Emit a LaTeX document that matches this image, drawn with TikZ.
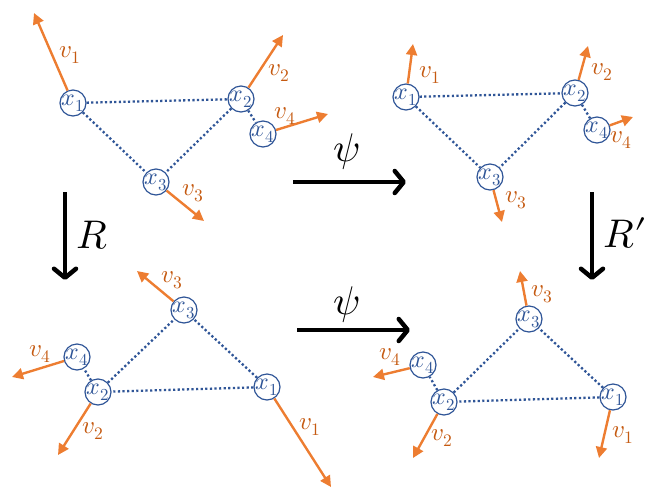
\documentclass[tikz,border=0pt]{standalone}
\usepackage{unicode-math}
\setmathfont{Latin Modern Math}
\usetikzlibrary{arrows.meta}
\definecolor{nodeblue}{HTML}{2F5597}
\definecolor{dotblue}{HTML}{2F5597}
\definecolor{vorange}{HTML}{ED7D31}
\definecolor{vtext}{HTML}{C55A11}
\newcommand{\xl}[1]{\makebox[0pt]{$x_{#1}$}}
\begin{document}
\begin{tikzpicture}[x=1pt,y=-1pt,
 pt/.style={circle,draw=nodeblue,line width=1.2pt,minimum size=26pt,inner sep=0pt,text=nodeblue,font=\fontsize{24}{26}\selectfont},
 link/.style={dotblue,line width=2.3pt,dash pattern=on 2.2pt off 2.4pt},
 vel/.style={vorange,line width=2.4pt,-{Triangle[length=11pt,width=11pt]}},
 vlab/.style={text=vtext,font=\fontsize{25}{27}\selectfont,inner sep=0pt},
 bigarrow/.style={line width=4.5pt,-{Straight Barb[length=9pt,width=22pt,round]}},
 biglab/.style={font=\fontsize{40}{44}\selectfont,inner sep=0pt}]
\useasboundingbox (0,0) rectangle (664,499);

% ---------- top left ----------
\node[pt] (a1) at (73,103) {\xl1};
\node[pt] (a2) at (241,99) {\xl2};
\node[pt] (a3) at (156,182) {\xl3};
\node[pt] (a4) at (263,134) {\xl4};
\coordinate (ta1) at (34,13);
\coordinate (ta2) at (283,35);
\coordinate (ta3) at (204,221);
\coordinate (ta4) at (328,114);
\draw[link] (a1) -- (a2);
\draw[link] (a1) -- (a3);
\draw[link] (a2) -- (a3);
\draw[link] (a2) -- (a4);
\draw[vel] (a1) -- (ta1);
\draw[vel] (a2) -- (ta2);
\draw[vel] (a3) -- (ta3);
\draw[vel] (a4) -- (ta4);
\node[vlab] (la1) at (70,55) {$v_1$};
\node[vlab] (la2) at (279,73) {$v_2$};
\node[vlab] (la3) at (193,193) {$v_3$};
\node[vlab] (la4) at (285,116) {$v_4$};

% ---------- top right ----------
\node[pt] (b1) at (406,97) {\xl1};
\node[pt] (b2) at (575,93) {\xl2};
\node[pt] (b3) at (490,177) {\xl3};
\node[pt] (b4) at (597,130) {\xl4};
\coordinate (tb1) at (413,44);
\coordinate (tb2) at (588,46);
\coordinate (tb3) at (502,222);
\coordinate (tb4) at (633,117);
\draw[link] (b1) -- (b2);
\draw[link] (b1) -- (b3);
\draw[link] (b2) -- (b3);
\draw[link] (b2) -- (b4);
\draw[vel] (b1) -- (tb1);
\draw[vel] (b2) -- (tb2);
\draw[vel] (b3) -- (tb3);
\draw[vel] (b4) -- (tb4);
\node[vlab] (lb1) at (430,75) {$v_1$};
\node[vlab] (lb2) at (602,72) {$v_2$};
\node[vlab] (lb3) at (516,200) {$v_3$};
\node[vlab] (lb4) at (621,140) {$v_4$};

% ---------- bottom left ----------
\node[pt] (c1) at (267,387) {\xl1};
\node[pt] (c2) at (98,392) {\xl2};
\node[pt] (c3) at (184,310) {\xl3};
\node[pt] (c4) at (77,357) {\xl4};
\coordinate (tc1) at (331,487);
\coordinate (tc2) at (58,455);
\coordinate (tc3) at (137,271);
\coordinate (tc4) at (12,377);
\draw[link] (c1) -- (c2);
\draw[link] (c1) -- (c3);
\draw[link] (c2) -- (c3);
\draw[link] (c2) -- (c4);
\draw[vel] (c1) -- (tc1);
\draw[vel] (c2) -- (tc2);
\draw[vel] (c3) -- (tc3);
\draw[vel] (c4) -- (tc4);
\node[vlab] (lc1) at (310,427) {$v_1$};
\node[vlab] (lc2) at (93,431) {$v_2$};
\node[vlab] (lc3) at (172,280) {$v_3$};
\node[vlab] (lc4) at (40,354) {$v_4$};

% ---------- bottom right ----------
\node[pt] (d1) at (613,397) {\xl1};
\node[pt] (d2) at (444,402) {\xl2};
\node[pt] (d3) at (529,319) {\xl3};
\node[pt] (d4) at (423,365) {\xl4};
\coordinate (td1) at (599,458);
\coordinate (td2) at (413,458);
\coordinate (td3) at (520,271);
\coordinate (td4) at (373,377);
\draw[link] (d1) -- (d2);
\draw[link] (d1) -- (d3);
\draw[link] (d2) -- (d3);
\draw[link] (d2) -- (d4);
\draw[vel] (d1) -- (td1);
\draw[vel] (d2) -- (td2);
\draw[vel] (d3) -- (td3);
\draw[vel] (d4) -- (td4);
\node[vlab] (ld1) at (623,435) {$v_1$};
\node[vlab] (ld2) at (442,438) {$v_2$};
\node[vlab] (ld3) at (542,294) {$v_3$};
\node[vlab] (ld4) at (390,357) {$v_4$};

% ---------- maps ----------
\coordinate (rs) at (65,192);
\coordinate (re) at (65,280);
\draw[bigarrow] (rs) -- (re);
\node[biglab] (rl) at (92,235) {$R$};
\coordinate (rps) at (592,192);
\coordinate (rpe) at (592,280);
\draw[bigarrow] (rps) -- (rpe);
\node[biglab] (rpl) at (625,233) {$R\prime$};
\coordinate (ps1) at (293,182);
\coordinate (pe1) at (406,182);
\draw[bigarrow] (ps1) -- (pe1);
\node[biglab] (pl1) at (347,152) {$\psi$};
\coordinate (ps2) at (297,330);
\coordinate (pe2) at (410,330);
\draw[bigarrow] (ps2) -- (pe2);
\node[biglab] (pl2) at (347,305) {$\psi$};
\end{tikzpicture}
\end{document}
